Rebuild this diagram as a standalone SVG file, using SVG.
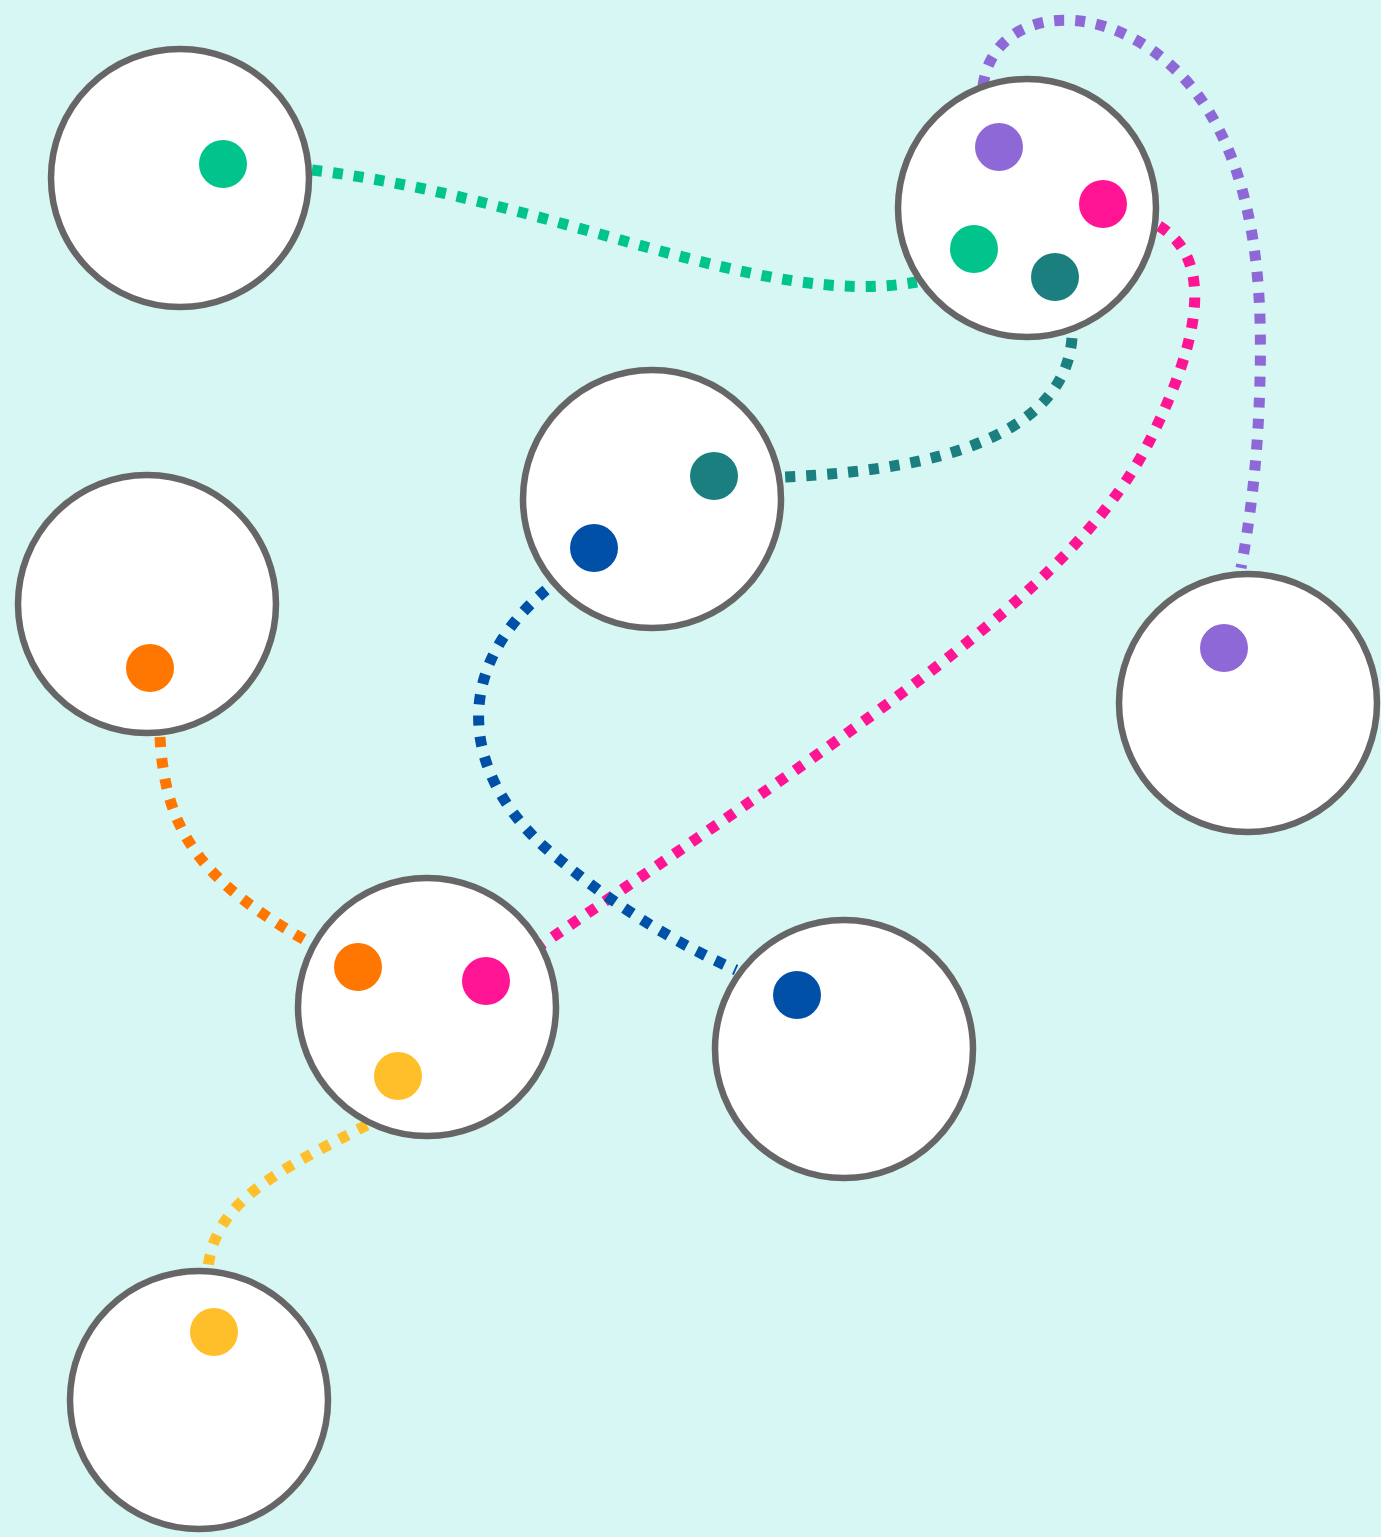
<svg xmlns="http://www.w3.org/2000/svg" width="1381" height="1537" viewBox="0 0 1381 1537">
<style>
.n{fill:#fff;stroke:#666;stroke-width:6.5}
.e{fill:none;stroke-width:11;stroke-dasharray:10 11}
</style>
<rect width="1381" height="1537" fill="#d6f7f4"/>
<g id="connectors">
<path class="e" stroke="#00c48c" stroke-dasharray="8 9" stroke-width="12" d="M312 170 C560 200 760 310 917 282"/>
<path class="e" stroke="#8e68d6" d="M983 86 C993 5 1110 -8 1190 85 C1260 170 1262 300 1260 380 C1258 460 1250 520 1241 568"/>
<path class="e" stroke="#ff1493" d="M1159 226 C1215 260 1200 340 1150 440 C1080 580 900 700 541 945"/>
<path class="e" stroke="#1a7f7e" d="M1072 338 C1065 430 950 470 783 477"/>
<path class="e" stroke="#0050a8" d="M546 590 C440 680 470 790 560 860 C620 910 680 945 736 970"/>
<path class="e" stroke="#ff7700" d="M160 737 C165 830 200 880 305 940"/>
<path class="e" stroke="#ffbf2a" d="M367 1125 C280 1170 215 1200 208 1268"/>
</g>
<g id="nodeA"><circle class="n" cx="180" cy="178" r="129"/><circle cx="223" cy="164" r="24" fill="#00c48c"/></g>
<g id="nodeB"><circle class="n" cx="1027" cy="208" r="129"/><circle cx="999" cy="147" r="24" fill="#8e68d6"/><circle cx="1103" cy="204" r="24" fill="#ff1493"/><circle cx="974" cy="249" r="24" fill="#00c48c"/><circle cx="1055" cy="277" r="24" fill="#1a7f7e"/></g>
<g id="nodeC"><circle class="n" cx="652" cy="499" r="129"/><circle cx="714" cy="476" r="24" fill="#1a7f7e"/><circle cx="594" cy="548" r="24" fill="#0050a8"/></g>
<g id="nodeD"><circle class="n" cx="147" cy="604" r="129"/><circle cx="150" cy="668" r="24" fill="#ff7700"/></g>
<g id="nodeE"><circle class="n" cx="1248" cy="703" r="129"/><circle cx="1224" cy="648" r="24" fill="#8e68d6"/></g>
<g id="nodeF"><circle class="n" cx="427" cy="1007" r="129"/><circle cx="358" cy="967" r="24" fill="#ff7700"/><circle cx="486" cy="981" r="24" fill="#ff1493"/><circle cx="398" cy="1076" r="24" fill="#ffbf2a"/></g>
<g id="nodeG"><circle class="n" cx="844" cy="1049" r="129"/><circle cx="797" cy="995" r="24" fill="#0050a8"/></g>
<g id="nodeH"><circle class="n" cx="199" cy="1400" r="129"/><circle cx="214" cy="1332" r="24" fill="#ffbf2a"/></g>
</svg>
